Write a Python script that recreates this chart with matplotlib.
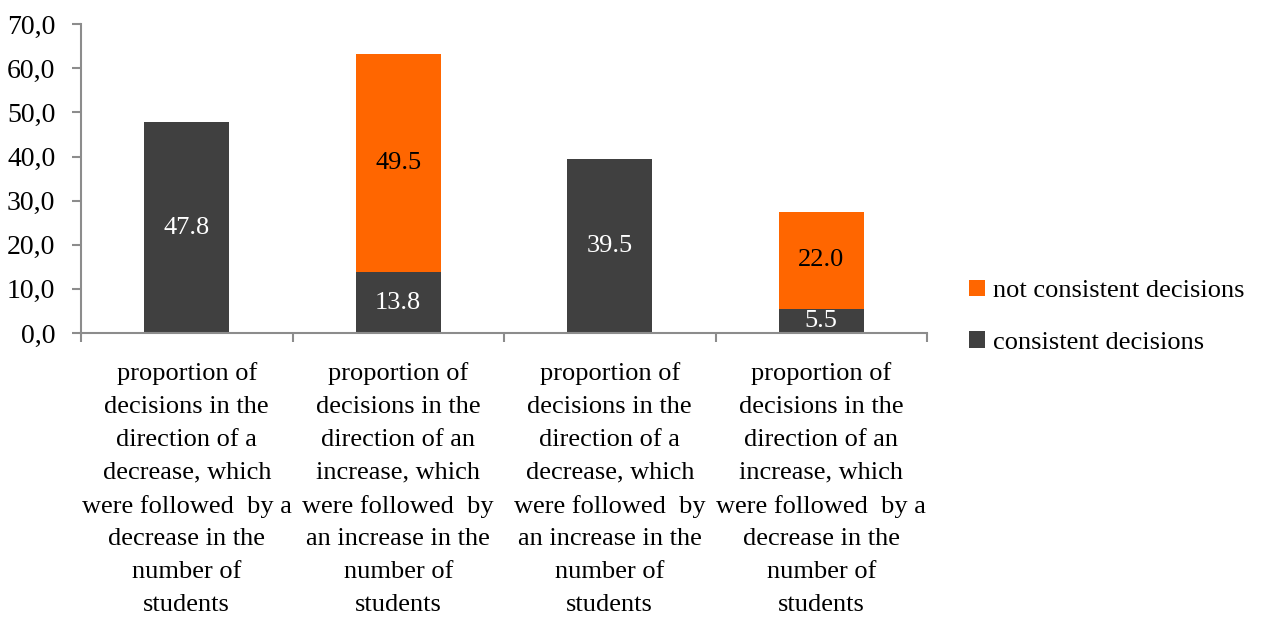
import numpy as np
import matplotlib.pyplot as plt
from matplotlib.ticker import FuncFormatter, FixedLocator

plt.rcParams['font.family'] = ['Liberation Serif', 'DejaVu Serif']

# data
categories = [
    "proportion of\ndecisions in the\ndirection of a\ndecrease, which\nwere followed  by a\ndecrease in the\nnumber of\nstudents",
    "proportion of\ndecisions in the\ndirection of an\nincrease, which\nwere followed  by\nan increase in the\nnumber of\nstudents",
    "proportion of\ndecisions in the\ndirection of a\ndecrease, which\nwere followed  by\nan increase in the\nnumber of\nstudents",
    "proportion of\ndecisions in the\ndirection of an\nincrease, which\nwere followed  by a\ndecrease in the\nnumber of\nstudents",
]
consistent = [47.8, 13.8, 39.5, 5.5]
not_consistent = [0.0, 49.5, 0.0, 22.0]

dark = '#404040'
orange = '#FF6600'
axis_gray = '#8C8C8C'

fig = plt.figure(figsize=(12.62, 6.19), dpi=100)
ax = fig.add_axes([0.0642, 0.462, 0.6704, 0.499])

x = np.arange(len(categories))
b1 = ax.bar(x, consistent, width=0.4, color=dark, label='consistent decisions')
b2 = ax.bar(x, not_consistent, width=0.4, bottom=consistent, color=orange,
            label='not consistent decisions')

for i in range(len(x)):
    ax.text(x[i], consistent[i] / 2, f"{consistent[i]:.1f}", ha='center', va='center',
            color='white', fontsize=19)
    if not_consistent[i] > 0:
        ax.text(x[i], consistent[i] + not_consistent[i] / 2, f"{not_consistent[i]:.1f}",
                ha='center', va='center', color='black', fontsize=19)

ax.set_xlim(-0.5, len(x) - 0.5)
ax.set_ylim(0, 70)
ax.set_yticks(np.arange(0, 71, 10))
ax.yaxis.set_major_formatter(FuncFormatter(lambda v, p: f"{v:.1f}".replace('.', ',')))

ax.set_xticks(x)
ax.set_xticklabels(categories, fontsize=19, linespacing=1.63)
ax.xaxis.set_minor_locator(FixedLocator(np.arange(-0.5, len(x), 1.0)))
ax.tick_params(axis='x', which='major', length=0, pad=21)
ax.tick_params(axis='x', which='minor', length=6.5, color=axis_gray, width=1.5)
ax.tick_params(axis='y', length=6.5, color=axis_gray, width=1.5, labelsize=20, pad=12)

for s in ['top', 'right']:
    ax.spines[s].set_visible(False)
for s in ['left', 'bottom']:
    ax.spines[s].set_color(axis_gray)
    ax.spines[s].set_linewidth(1.5)

fig.legend(handles=[b2, b1], loc='center left', bbox_to_anchor=(0.768, 0.488),
           frameon=False, fontsize=19, handlelength=0.6, handleheight=0.6,
           handletextpad=0.3, labelspacing=1.1, borderaxespad=0, borderpad=0)

fig.savefig('out.png', dpi=100)
